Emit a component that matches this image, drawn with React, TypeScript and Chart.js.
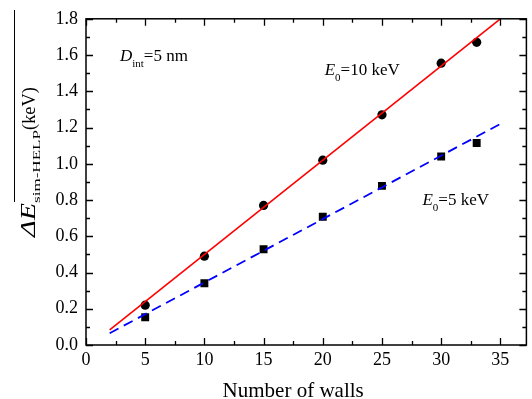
import React, { useEffect, useRef } from 'react';
import { Chart, registerables } from 'chart.js';
Chart.register(...registerables);

const walls = [5, 10, 15, 20, 25, 30, 33];
const e10 = [0.22, 0.49, 0.77, 1.02, 1.27, 1.555, 1.67];
const e5 = [0.153, 0.341, 0.528, 0.708, 0.878, 1.04, 1.115];
const fitX = [2, 35];
const fit10 = [0.083, 1.8];
const fit5 = [0.065, 1.22];
const xTicks = [0, 5, 10, 15, 20, 25, 30, 35];
const xMinor = [2.5, 7.5, 12.5, 17.5, 22.5, 27.5, 32.5];
const yTicks = [0, 0.2, 0.4, 0.6, 0.8, 1.0, 1.2, 1.4, 1.6, 1.8];
const yMinor = [0.1, 0.3, 0.5, 0.7, 0.9, 1.1, 1.3, 1.5, 1.7];

const SERIF = '"Liberation Serif", "Times New Roman", serif';

type Seg = { text: string; size: number; italic?: boolean; dy?: number; len?: number };

function drawRich(ctx: CanvasRenderingContext2D, x: number, y: number, segs: Seg[]) {
  let cx = x;
  for (const s of segs) {
    ctx.font = `${s.italic ? 'italic ' : ''}${s.size}px ${SERIF}`;
    const w = ctx.measureText(s.text).width;
    const target = s.len ?? w;
    ctx.save();
    ctx.translate(cx, y + (s.dy || 0));
    ctx.scale(target / w, 1);
    ctx.fillText(s.text, 0, 0);
    ctx.restore();
    cx += target;
  }
}

const decor = {
  id: 'decor',
  afterDatasetsDraw(chart: any) {
    const ctx: CanvasRenderingContext2D = chart.ctx;
    const { left, right, top, bottom } = chart.chartArea;
    const xs = chart.scales.x;
    const ys = chart.scales.y;
    ctx.save();
    ctx.strokeStyle = '#000';
    ctx.lineWidth = 1.5;
    ctx.strokeRect(left, top, right - left, bottom - top);
    ctx.lineWidth = 1.3;
    const major = 7, minor = 4;
    ctx.beginPath();
    const xt = (v: number, len: number) => {
      const p = Math.round(xs.getPixelForValue(v)) + 0.5;
      ctx.moveTo(p, bottom); ctx.lineTo(p, bottom - len);
      ctx.moveTo(p, top); ctx.lineTo(p, top + len);
    };
    const yt = (v: number, len: number) => {
      const p = Math.round(ys.getPixelForValue(v)) + 0.5;
      ctx.moveTo(left, p); ctx.lineTo(left + len, p);
      ctx.moveTo(right, p); ctx.lineTo(right - len, p);
    };
    xTicks.forEach((v) => xt(v, major));
    xMinor.forEach((v) => xt(v, minor));
    yTicks.forEach((v) => yt(v, major));
    yMinor.forEach((v) => yt(v, minor));
    ctx.stroke();
    ctx.restore();
  },
  afterDraw(chart: any) {
    const ctx: CanvasRenderingContext2D = chart.ctx;
    const xs = chart.scales.x;
    const ys = chart.scales.y;
    ctx.save();
    ctx.fillStyle = '#000';
    ctx.textBaseline = 'alphabetic';
    ctx.textAlign = 'left';
    // annotations
    drawRich(ctx, xs.getPixelForValue(2.87), ys.getPixelForValue(1.568), [
      { text: 'D', size: 17, italic: true },
      { text: 'int', size: 11, dy: 6 },
      { text: '=5 nm', size: 17 },
    ]);
    drawRich(ctx, xs.getPixelForValue(20.16), ys.getPixelForValue(1.491), [
      { text: 'E', size: 17, italic: true },
      { text: '0', size: 11, dy: 6 },
      { text: '=10 keV', size: 17 },
    ]);
    drawRich(ctx, xs.getPixelForValue(28.42), ys.getPixelForValue(0.773), [
      { text: 'E', size: 17, italic: true },
      { text: '0', size: 11, dy: 6 },
      { text: '=5 keV', size: 17 },
    ]);
    // x title
    ctx.font = `21px ${SERIF}`;
    ctx.textAlign = 'center';
    ctx.fillText('Number of walls', (xs.getPixelForValue(0) + xs.getPixelForValue(35)) / 2, 397);
    // y title
    ctx.textAlign = 'left';
    ctx.save();
    ctx.translate(35, 237);
    ctx.rotate(-Math.PI / 2);
    drawRich(ctx, 0, 0, [
      { text: '\u0394E', size: 20, italic: true, len: 34 },
      { text: 'sim-HELP', size: 11, dy: 5, len: 73 },
      { text: '(keV)', size: 18, len: 43 },
    ]);
    ctx.restore();
    ctx.strokeStyle = '#000';
    ctx.lineWidth = 1;
    ctx.beginPath();
    ctx.moveTo(14.5, 10);
    ctx.lineTo(14.5, 202);
    ctx.stroke();
    ctx.restore();
  },
};

export default function App() {
  const ref = useRef<HTMLCanvasElement>(null);
  useEffect(() => {
    document.body.style.margin = '0';
    const chart = new Chart(ref.current!, {
      type: 'scatter',
      data: {
        datasets: [
          {
            label: 'fit10',
            data: fitX.map((x, i) => ({ x, y: fit10[i] })),
            showLine: true,
            borderColor: '#ff0000',
            borderWidth: 1.6,
            pointRadius: 0,
          },
          {
            label: 'fit5',
            data: fitX.map((x, i) => ({ x, y: fit5[i] })),
            showLine: true,
            borderColor: '#0000ff',
            borderWidth: 1.8,
            borderDash: [10, 6],
            pointRadius: 0,
          },
          {
            label: 'E0=10 keV',
            data: walls.map((x, i) => ({ x, y: e10[i] })),
            pointStyle: 'circle',
            pointRadius: 4.6,
            backgroundColor: '#000',
            borderColor: '#000',
            borderWidth: 0,
          },
          {
            label: 'E0=5 keV',
            data: walls.map((x, i) => ({ x, y: e5[i] })),
            pointStyle: 'rect',
            pointRadius: 5.6,
            backgroundColor: '#000',
            borderColor: '#000',
            borderWidth: 0,
          },
        ],
      },
      options: {
        animation: false,
        responsive: false,
        layout: { padding: { top: 18, right: 5, left: 0, bottom: 0 } },
        plugins: { legend: { display: false }, tooltip: { enabled: false } },
        scales: {
          x: {
            type: 'linear',
            min: 0,
            max: 37.2,
            grid: { display: false, drawTicks: false },
            border: { display: false },
            afterBuildTicks: (s: any) => { s.ticks = xTicks.map((v) => ({ value: v })); },
            afterFit: (s: any) => { s.height = 54; },
            ticks: {
              color: '#000',
              font: { family: SERIF, size: 18 },
              padding: 4,
              maxRotation: 0,
              callback: (v: any) => String(v),
            },
          },
          y: {
            type: 'linear',
            min: 0,
            max: 1.8,
            grid: { display: false, drawTicks: false },
            border: { display: false },
            afterBuildTicks: (s: any) => { s.ticks = yTicks.map((v) => ({ value: v })); },
            afterFit: (s: any) => { s.width = 86; },
            ticks: {
              color: '#000',
              font: { family: SERIF, size: 18 },
              padding: 8,
              callback: (v: any) => Number(v).toFixed(1),
            },
          },
        },
      },
      plugins: [decor],
    });
    return () => chart.destroy();
  }, []);
  return (
    <div style={{ width: 532, height: 399 }}>
      <canvas ref={ref} width={532} height={399} />
    </div>
  );
}
